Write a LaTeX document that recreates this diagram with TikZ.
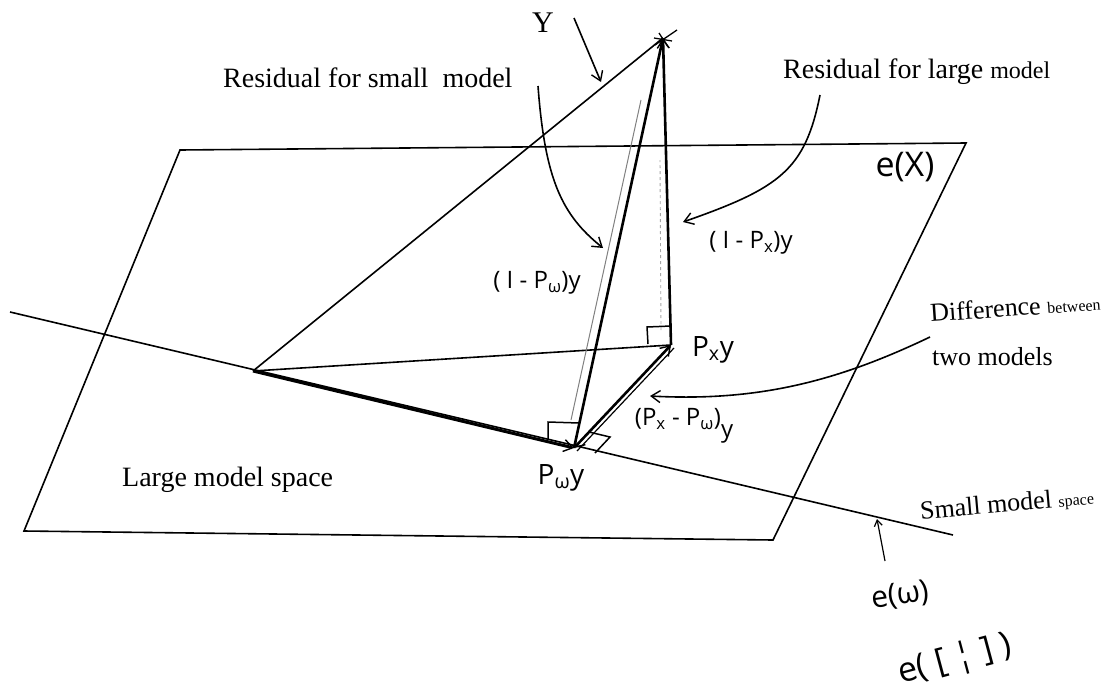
\documentclass[tikz,border=0pt]{standalone}
\usepackage{fontspec}
\usepackage{graphicx}
\setmainfont{Liberation Serif}
\newfontfamily\hand{Open Sans}
\usetikzlibrary{arrows.meta}
\begin{document}
\begin{tikzpicture}[x=1pt,y=-1pt,
  edge/.style={line width=1.6pt},
  heavy/.style={line width=2.6pt},
  printed/.style={inner sep=0pt, font=\fontsize{28}{30}\selectfont},
  hand/.style={inner sep=0pt, font=\hand\fontsize{24}{26}\selectfont},
  barb/.style={-{Straight Barb[length=9pt,width=12pt,line width=1.4pt]}},
  rbox/.style={line width=1.5pt},
]
\useasboundingbox (0,0) rectangle (1110,696);
% points
\coordinate (TL) at (180,150);
\coordinate (TR) at (966,143);
\coordinate (BR) at (773,540);
\coordinate (BL) at (24,531);
\coordinate (SL) at (10,312);
\coordinate (SR) at (953,535);
\coordinate (O) at (253,371);
\coordinate (Y) at (663,38);
\coordinate (PX) at (671,345);
\coordinate (PW) at (574,448);
% plane and lines
\draw[edge] (TL) -- (TR) -- (BR) -- (BL) -- cycle;
\draw[edge] (SL) -- (SR);
\draw[line width=3pt, barb] (O) -- (PW);
\draw[edge] (O) -- (Y);
\draw[edge] (O) -- (PX);
% residual small
\draw[heavy] (PW) -- (Y);
\draw[gray, line width=1pt] (571,420) -- (641,100);
% residual large
\draw[heavy, barb] (PX) -- (Y);
\draw[gray!70, line width=0.9pt, dashed] (661,330) -- (660,160);
% difference
\draw[heavy, {Straight Barb[length=9pt,width=12pt,line width=1.4pt]}-{Straight Barb[length=9pt,width=12pt,line width=1.4pt]}] (PW) -- (PX);
\draw[line width=1.2pt] ([shift={(3,3)}]PW) -- ([shift={(3,3)}]PX);
% right-angle marks
\draw[rbox] (548,439) -- (548,422) -- (579,423);
\draw[rbox] (589,432) -- (610,437) -- (595,453);
\draw[rbox] (648,344) -- (647,327) -- (671,326);
% mark at Y
\draw[line width=1.3pt] (655,45) -- (677,30);
\draw[line width=1.3pt] (659,33) -- (668,47);
\draw[line width=1.3pt] (654,38) -- (672,41);
% printed labels
\node[printed, anchor=west, font=\fontsize{30}{32}\selectfont] (ly) at (532,23) {Y};
\node[printed, anchor=west] (lrs) at (223,78) {Residual for small\ \ model};
\node[printed, anchor=west] (lrl) at (783,72) {Residual for large {\fontsize{24}{26}\selectfont model}};
\node[printed, anchor=west] (llm) at (122,480) {Large model space};
\node[printed, anchor=west, rotate=4, font=\fontsize{26}{28}\selectfont] (ldiff) at (930,313) {Difference {\fontsize{16}{18}\selectfont between}};
\node[printed, anchor=west, font=\fontsize{26}{28}\selectfont] (ltwo) at (932,357) {two models};
\node[printed, anchor=west, rotate=5, font=\fontsize{26}{28}\selectfont] (lsmall) at (920,512) {Small model {\fontsize{16}{18}\selectfont space}};
% handwritten labels
\node[hand] (lrw) at (537,283) {( I - P\textsubscript{ω})y};
\node[hand] (lrx) at (751,243) {( I - P\textsubscript{x})y};
\node[hand, font=\hand\fontsize{34}{36}\selectfont] (lex) at (905,167) {e(X)};
\node[hand, font=\hand\fontsize{28}{30}\selectfont] (lpx) at (713,350) {P\textsubscript{x}y};
\node[hand, font=\hand\fontsize{28}{30}\selectfont] (lpw) at (561,478) {P\textsubscript{ω}y};
\node[hand] (lpxw) at (684,426) {(P\textsubscript{x} - P\textsubscript{ω})\raisebox{-12pt}{y}};
\node[hand, font=\hand\fontsize{30}{32}\selectfont, rotate=8] (lew) at (900,596) {e(ω)};
\node[hand, font=\hand\fontsize{34}{36}\selectfont, rotate=15] (levec) at (955,660) {e( [ ¦ ] )};
% pointer arrows
\draw[edge, barb] (574,18) -- (601,82);
\draw[edge, barb] (538,86) .. controls (545,180) and (562,215) .. (603,248);
\draw[edge, barb] (820,95) .. controls (805,170) and (780,188) .. (683,222);
\draw[edge, barb] (930,337) .. controls (840,380) and (760,402) .. (650,396);
\draw[line width=1.2pt, -{Straight Barb[length=6pt,width=8pt]}] (885,561) -- (877,519);
\end{tikzpicture}
\end{document}
